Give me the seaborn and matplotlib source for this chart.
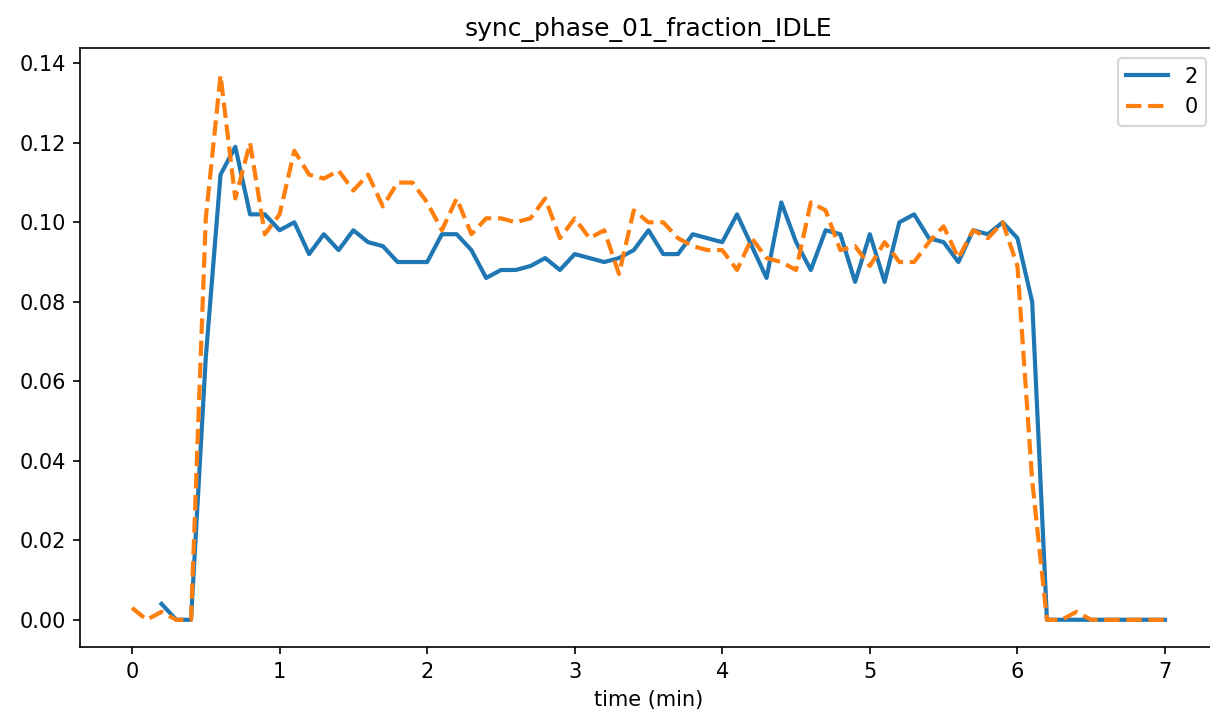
import numpy as np
import pandas as pd
import matplotlib
matplotlib.use("Agg")
import matplotlib.pyplot as plt
import seaborn as sns

time_min = [0.0, 0.1, 0.2, 0.3, 0.4, 0.5, 0.6, 0.7, 0.8, 0.9,
            1.0, 1.1, 1.2, 1.3, 1.4, 1.5, 1.6, 1.7, 1.8, 1.9,
            2.0, 2.1, 2.2, 2.3, 2.4, 2.5, 2.6, 2.7, 2.8, 2.9,
            3.0, 3.1, 3.2, 3.3, 3.4, 3.5, 3.6, 3.7, 3.8, 3.9,
            4.0, 4.1, 4.2, 4.3, 4.4, 4.5, 4.6, 4.7, 4.8, 4.9,
            5.0, 5.1, 5.2, 5.3, 5.4, 5.5, 5.6, 5.7, 5.8, 5.9,
            6.0, 6.1, 6.2, 6.3, 6.4, 6.5, 6.6, 6.7, 6.8, 6.9, 7.0]

series_2 = [np.nan, np.nan, 0.004, 0.000, 0.000, 0.066, 0.112, 0.119, 0.102, 0.102,
            0.098, 0.100, 0.092, 0.097, 0.093, 0.098, 0.095, 0.094, 0.090, 0.090,
            0.090, 0.097, 0.097, 0.093, 0.086, 0.088, 0.088, 0.089, 0.091, 0.088,
            0.092, 0.091, 0.090, 0.091, 0.093, 0.098, 0.092, 0.092, 0.097, 0.096,
            0.095, 0.102, 0.094, 0.086, 0.105, 0.095, 0.088, 0.098, 0.097, 0.085,
            0.097, 0.085, 0.100, 0.102, 0.096, 0.095, 0.090, 0.098, 0.097, 0.100,
            0.096, 0.080, 0.000, 0.000, 0.000, 0.000, 0.000, 0.000, 0.000, 0.000, 0.000]

series_0 = [0.003, 0.000, 0.002, 0.000, 0.000, 0.101, 0.137, 0.106, 0.120, 0.097,
            0.102, 0.118, 0.112, 0.111, 0.113, 0.108, 0.112, 0.104, 0.110, 0.110,
            0.105, 0.098, 0.106, 0.097, 0.101, 0.101, 0.100, 0.101, 0.106, 0.096,
            0.101, 0.096, 0.098, 0.087, 0.103, 0.100, 0.100, 0.096, 0.094, 0.093,
            0.093, 0.088, 0.096, 0.091, 0.090, 0.088, 0.105, 0.103, 0.093, 0.094,
            0.089, 0.095, 0.090, 0.090, 0.095, 0.099, 0.091, 0.098, 0.096, 0.100,
            0.089, 0.035, 0.000, 0.000, 0.002, 0.000, 0.000, 0.000, 0.000, 0.000, 0.000]

series_labels = ["2", "0"]
colors = ["#1f77b4", "#ff7f0e"]

df = pd.concat([
    pd.DataFrame({"time": time_min, "value": series_2, "run": "2"}),
    pd.DataFrame({"time": time_min, "value": series_0, "run": "0"}),
]).dropna()

plt.rcParams["font.family"] = ["DejaVu Sans"]
plt.rcParams["font.size"] = 10

fig = plt.figure(figsize=(1210 / 150, 721 / 150), dpi=150)
ax = fig.add_axes([80.35 / 1210, 74 / 721, 1136.3 / 1210, 599 / 721])

sns.lineplot(data=df, x="time", y="value", hue="run", style="run",
             hue_order=series_labels, style_order=series_labels,
             palette=colors, dashes=["", (3.7, 1.6)], linewidth=2,
             legend=False, ax=ax)

ax.set_xlim(-0.35, 7.35)
ax.set_xticks([0, 1, 2, 3, 4, 5, 6, 7])
ax.set_title("sync_phase_01_fraction_IDLE")
ax.set_xlabel("time (min)")
ax.set_ylabel("")
ax.legend(ax.lines[:2], series_labels, loc="upper right")

fig.savefig("out.png", dpi=150)
